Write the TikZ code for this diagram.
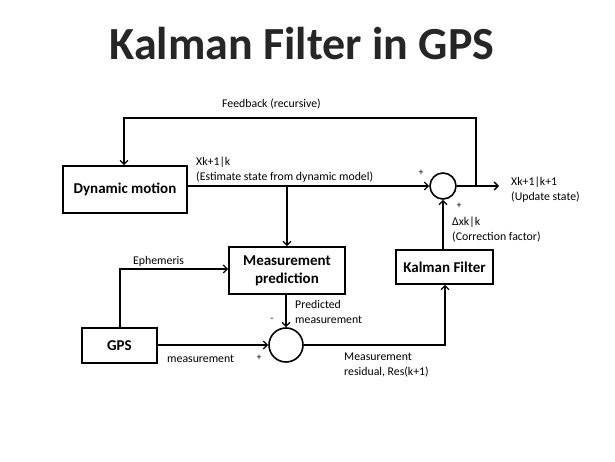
\documentclass[tikz,border=0pt]{standalone}
\usepackage{fontspec}
\setmainfont{Carlito}
\usetikzlibrary{arrows.meta}
\begin{document}
\begin{tikzpicture}[x=1pt,y=-1pt,
  conn/.style={line width=1.6pt},
  arr/.style={conn,-{Straight Barb[length=4pt,width=8pt,line width=1.3pt]}},
  blk/.style={draw,line width=1.6pt,fill=white,inner sep=0pt,font=\fontsize{15}{18}\selectfont\bfseries,align=center},
  sumc/.style={draw,line width=1.6pt,circle,inner sep=0pt,fill=white},
  lbl/.style={font=\fontsize{11.8}{15}\selectfont,inner sep=0pt,align=left,anchor=west},
  sgn/.style={font=\fontsize{10}{12}\selectfont,inner sep=0pt}]
\useasboundingbox (0,0) rectangle (615,462);
% title
\node[font=\fontsize{46}{50}\selectfont\bfseries,text=black!85,inner sep=0pt] (title) at (302,44) {Kalman Filter in GPS};
% blocks
\node[blk,minimum width=124pt,minimum height=47pt] (dm) at (125,189.5) {Dynamic motion};
\node[blk,minimum width=116pt,minimum height=47pt] (mp) at (287,270.5) {Measurement\\prediction};
\node[blk,minimum width=97pt,minimum height=34pt] (kf) at (444.5,267) {Kalman Filter};
\node[blk,minimum width=75pt,minimum height=35pt] (gps) at (119.5,345.5) {GPS};
\node[sumc,minimum size=26pt] (c1) at (443,186) {};
\node[sumc,minimum size=34pt] (c2) at (286,345) {};
% coordinates
\coordinate (j) at (476,186);
\coordinate (out) at (499,186);
\coordinate (fbr) at (476,118);
\coordinate (fbl) at (124,118);
\coordinate (br) at (287,186);
\coordinate (gpsup) at (120,269);
\coordinate (rc) at (445,345);
% connectors
\draw[arr] (dm.east |- c1) -- (c1);
\draw[conn] (c1) -- (j);
\draw[arr] (j) -- (out);
\draw[arr] (j) -- (fbr) -- (fbl) -- (fbl |- dm.north);
\draw[arr] (br) -- (br |- mp.north);
\draw[arr] (gps.north -| gpsup) -- (gpsup) -- (gpsup -| mp.west);
\draw[arr] (mp.south -| c2) -- (c2);
\draw[arr] (gps.east |- c2) -- (c2);
\draw[arr] (c2) -- (rc) -- (rc |- kf.south);
\draw[arr] (kf.north -| c1) -- (c1);
% labels
\node[lbl] (fbl1) at (222,104) {Feedback (recursive)};
\node[lbl] (xk) at (196,169.5) {Xk+1|k\\(Estimate state from dynamic model)};
\node[lbl] (upd) at (511,189.5) {Xk+1|k+1\\(Update state)};
\node[lbl] (dx) at (452,230) {Δxk|k\\(Correction factor)};
\node[lbl] (eph) at (133,261) {Ephemeris};
\node[lbl] (pm) at (295,312) {Predicted\\measurement};
\node[lbl] (meas) at (167,359) {measurement};
\node[lbl] (res) at (344,365) {Measurement\\residual, Res(k+1)};
\node[sgn] (p1) at (421,173) {+};
\node[sgn] (p2) at (459,206) {+};
\node[sgn] (m1) at (272,320) {-};
\node[sgn] (p3) at (259,358) {+};
\end{tikzpicture}
\end{document}
